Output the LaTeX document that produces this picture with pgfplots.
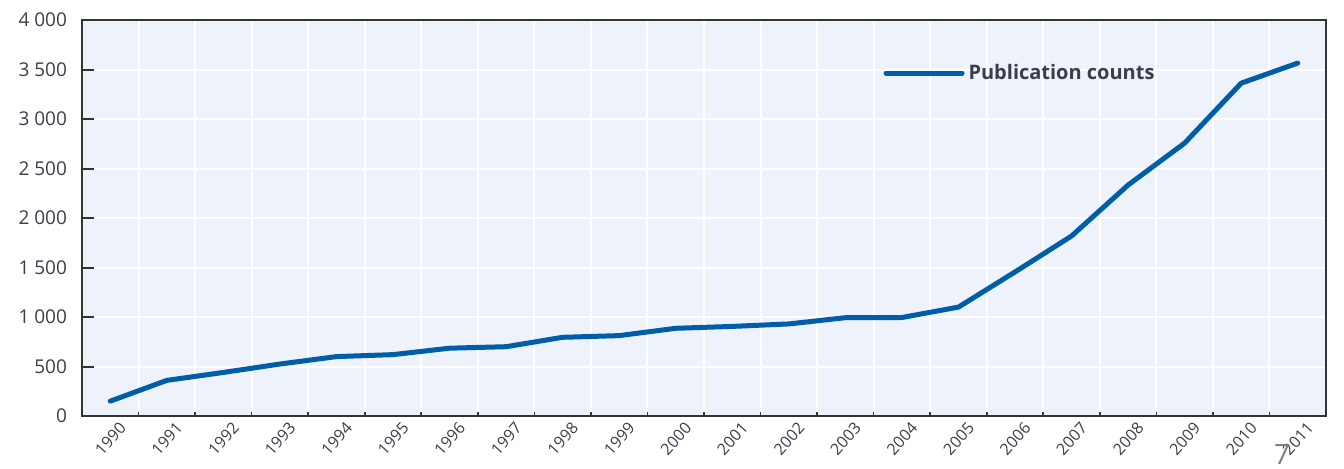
\documentclass[border=0pt]{standalone}
\usepackage{fontspec}
\setmainfont{Open Sans}
\usepackage{pgfplots}
\pgfplotsset{compat=1.18}
\definecolor{bgc}{HTML}{EEF2FA}
\definecolor{linec}{HTML}{005DA8}
\definecolor{txt}{HTML}{3C3C4C}
\begin{document}
\begin{tikzpicture}
\useasboundingbox (-41pt,-26pt) rectangle (631pt,208pt);
\begin{axis}[
  at={(0,0)}, anchor=south west,
  scale only axis, width=622pt, height=198pt,
  xmin=-0.5, xmax=21.5, ymin=0, ymax=4000,
  axis background/.style={fill=bgc},
  axis line style={draw=black!80, line width=1pt},
  xtick={0,1,2,3,4,5,6,7,8,9,10,11,12,13,14,15,16,17,18,19,20,21},
  xticklabels={1990,1991,1992,1993,1994,1995,1996,1997,1998,1999,2000,2001,2002,2003,2004,2005,2006,2007,2008,2009,2010,2011},
  minor xtick={0.5,1.5,...,20.5},
  ytick={0,500,...,4000},
  xtick pos=bottom, ytick pos=left,
  tick align=inside,
  major x tick style={draw=none},
  minor x tick style={draw=black!80, line width=0.8pt},
  minor tick length=2pt,
  major y tick style={draw=black!80, line width=1pt},
  major tick length=6pt,
  xmajorgrids=false, xminorgrids=true, ymajorgrids=true,
  grid style={white, line width=1pt},
  minor grid style={white, line width=1pt},
  /pgf/number format/assume math mode=true,
  /pgf/number format/1000 sep={\ },
  yticklabel style={font=\fontsize{9.5}{10}\selectfont, text=txt, xshift=-4pt},
  xticklabel style={font=\fontsize{8}{9}\selectfont, text=txt, rotate=48, anchor=north east, inner sep=0.5pt, xshift=1.5pt, yshift=-4pt},
  legend style={at={(0.644,0.866)}, anchor=west, draw=none, fill=none,
    font=\fontsize{10}{11}\selectfont\bfseries, text=txt, inner sep=0pt},
  legend cell align=left,
  legend image code/.code={\draw[linec, line width=2.5pt] (0pt,0pt) -- (38pt,0pt);},
]
\addplot[linec, line width=2.5pt, line join=round, line cap=round] coordinates {
 (0,150) (1,360) (2,440) (3,525) (4,600) (5,620) (6,685) (7,700) (8,795) (9,812)
 (10,886) (11,905) (12,930) (13,993) (14,995) (15,1100) (16,1455) (17,1818)
 (18,2333) (19,2757) (20,3362) (21,3565)
};
\addlegendentry{Publication counts}
\end{axis}
\node[text=gray, font=\fontsize{14}{14}\selectfont, anchor=base, inner sep=0pt] at (600pt,-24pt) {7};
\end{tikzpicture}
\end{document}
